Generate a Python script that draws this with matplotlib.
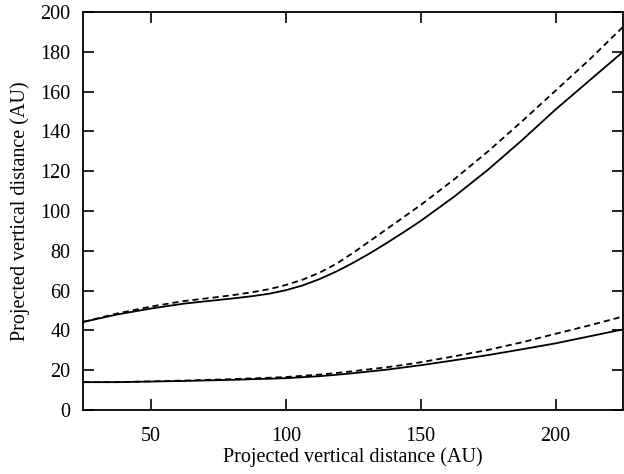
import numpy as np
import matplotlib.pyplot as plt

x = [25, 37.5, 50, 62.5, 75, 81.25, 87.5, 93.75, 100, 106.25, 112.5,
     118.75, 125, 131.25, 137.5, 143.75, 150, 162.5, 175, 187.5, 200,
     212.5, 225]

upper_solid = [44.3, 48, 51, 53.5, 55.3, 56.2, 57.2, 58.4, 60.2, 62.6, 65.8,
               69.6, 74, 78.8, 84, 89.4, 95, 107.3, 120.8, 135.5, 151,
               165.5, 180]
upper_dashed = [44.3, 48.5, 52, 54.8, 56.8, 57.9, 59.2, 60.7, 62.8, 65.5, 69,
                73.5, 79, 85, 91, 97, 103, 116, 130, 145, 160.5,
                176, 192.5]
lower_solid = [14, 14, 14.3, 14.6, 15, 15.2, 15.5, 15.7, 16, 16.5, 17,
               17.7, 18.5, 19.4, 20.3, 21.4, 22.5, 25, 27.6, 30.5, 33.5,
               37, 40.5]
lower_dashed = [14, 14, 14.4, 14.8, 15.3, 15.6, 15.9, 16.2, 16.6, 17.2, 17.8,
                18.6, 19.5, 20.5, 21.5, 22.7, 24, 27, 30.2, 34, 38.3,
                42.5, 47]

plt.rcParams['font.family'] = ['Liberation Serif', 'DejaVu Serif']

fig = plt.figure(figsize=(6.24, 4.74), dpi=100)
ax = fig.add_axes([0.1338, 0.135, 0.8646, 0.8397])

dash = (3.4, 2.2)
ax.plot(x, upper_solid, color='black', lw=1.3)
ax.plot(x, upper_dashed, color='black', lw=1.3, dashes=dash)
ax.plot(x, lower_solid, color='black', lw=1.3)
ax.plot(x, lower_dashed, color='black', lw=1.3, dashes=dash)

ax.set_xlim(25, 225)
ax.set_ylim(0, 200)
ax.set_xticks([50, 100, 150, 200])
ax.set_yticks(np.arange(0, 201, 20))
ax.tick_params(direction='in', length=8, width=1.2, top=True, right=True,
               labelsize=14.5, color='black')
ax.tick_params(axis='x', pad=12)
ax.tick_params(axis='y', pad=9.5)
for s in ax.spines.values():
    s.set_linewidth(1.3)

ax.set_xlabel('Projected vertical distance (AU)', fontsize=14.5, labelpad=1)
ax.set_ylabel('Projected vertical distance (AU)', fontsize=14.5, labelpad=7)

fig.savefig('out.png', dpi=100)
